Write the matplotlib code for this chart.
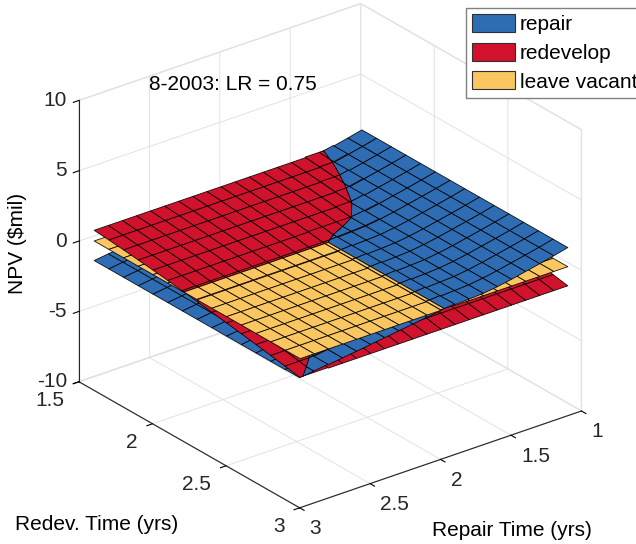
import numpy as np
import matplotlib
matplotlib.use("Agg")
import matplotlib.pyplot as plt
from matplotlib.patches import Patch
from matplotlib.ticker import NullFormatter
from mpl_toolkits.mplot3d import proj3d
from mpl_toolkits.mplot3d.art3d import Poly3DCollection

# NPV ($mil) (8-2003, LR = 0.75)
repair_time = [1.1, 1.2, 1.3, 1.4, 1.5, 1.6, 1.7, 1.8, 1.9, 2.0,
               2.1, 2.2, 2.3, 2.4, 2.5, 2.6, 2.7, 2.8, 2.9, 3.0]
redev_time = [1.6, 1.7, 1.8, 1.9, 2.0, 2.1, 2.2, 2.3, 2.4, 2.5,
              2.6, 2.7, 2.8, 2.9, 3.0]
npv_repair = [2.00, 1.76, 1.54, 1.33, 1.12, 0.94, 0.81, 0.75, 0.70, 0.62,
              0.49, 0.35, 0.21, 0.07, -0.07, -0.21, -0.34, -0.48, -0.62, -0.75]
npv_redevelop = [1.40, 1.31, 1.20, 1.08, 0.96, 0.82, 0.66, 0.51, 0.35, 0.19,
                 0.02, -0.15, -0.33, -0.52, -0.72]
npv_vacant = 0.64

options = ["repair", "redevelop", "leave vacant"]
colors = ["#2e6db4", "#d0122c", "#f9c660"]

x_ticks = [1, 1.5, 2, 2.5, 3]
x_ticklabels = ["1", "1.5", "2", "2.5", "3"]
y_ticks = [1.5, 2, 2.5, 3]
y_ticklabels = ["1.5", "2", "2.5", "3"]
z_ticks = [-10, -5, 0, 5, 10]
z_ticklabels = ["-10", "-5", "0", "5", "10"]

ELEV, AZIM = 26.3, 52.2
BOX = (1, 1.01, 0.88)


def npv_at(option, x, y):
    if option == "repair":
        return float(np.interp(x, repair_time, npv_repair))
    if option == "redevelop":
        return float(np.interp(y, redev_time, npv_redevelop))
    return npv_vacant


def split(poly, d):
    """Cut a flat polygon along the zero line of d (linear inside a cell)."""
    above, below = [], []
    n = len(poly)
    for k in range(n):
        p, q = poly[k], poly[(k + 1) % n]
        dp, dq = d[k], d[(k + 1) % n]
        if dp >= 0:
            above.append(p)
        if dp <= 0:
            below.append(p)
        if dp * dq < 0:
            t = dp / (dp - dq)
            m = (p[0] + t * (q[0] - p[0]), p[1] + t * (q[1] - p[1]))
            above.append(m)
            below.append(m)
    return above, below


def area(poly):
    xs = np.array([p[0] for p in poly])
    ys = np.array([p[1] for p in poly])
    return 0.5 * abs(np.dot(xs, np.roll(ys, 1)) - np.dot(ys, np.roll(xs, 1)))


# cut each surface cell along its crossings with the other two surfaces,
# then paint cell by cell (far to near) and bottom to top inside a cell
eye = (np.cos(np.radians(AZIM)), np.sin(np.radians(AZIM)))
groups = {}
for i in range(len(redev_time) - 1):
    for j in range(len(repair_time) - 1):
        x0, x1 = repair_time[j], repair_time[j + 1]
        y0, y1 = redev_time[i], redev_time[i + 1]
        near = (eye[0] * ((x0 + x1) / 2 - 1) / 2 * BOX[0]
                + eye[1] * ((y0 + y1) / 2 - 1.5) / 1.5 * BOX[1])
        for opt, col in zip(options, colors):
            others = [o for o in options if o != opt]
            pieces = [[(x0, y0), (x1, y0), (x1, y1), (x0, y1)]]
            for other in others:
                cut = []
                for pc in pieces:
                    d = [npv_at(opt, *p) - npv_at(other, *p) for p in pc]
                    cut += [q for q in split(pc, d) if len(q) >= 3 and area(q) > 1e-9]
                pieces = cut
            for pc in pieces:
                mx = np.mean([p[0] for p in pc])
                my = np.mean([p[1] for p in pc])
                rank = sum(npv_at(opt, mx, my) > npv_at(o, mx, my) for o in others)
                key = (round(near, 9), rank)
                groups.setdefault(key, []).append(
                    ([(px, py, npv_at(opt, px, py)) for px, py in pc], col))

plt.rcParams["font.family"] = ["Liberation Sans", "DejaVu Sans"]
plt.rcParams["grid.color"] = "#e2e2e2"
plt.rcParams["grid.linewidth"] = 0.7

W, H = 636, 544
fig = plt.figure(figsize=(W / 100, H / 100), dpi=100)
ax = fig.add_subplot(projection="3d", proj_type="ortho")
ax.view_init(elev=ELEV, azim=AZIM)
ax.set_box_aspect(BOX)
ax.computed_zorder = False

for order, key in enumerate(sorted(groups)):
    verts = [g[0] for g in groups[key]]
    fcs = [g[1] for g in groups[key]]
    coll = Poly3DCollection(verts, facecolors=fcs, edgecolors=(0, 0, 0, 0.9),
                            linewidths=0.6)
    coll.set_zorder(10 + order)
    ax.add_collection3d(coll, autolim=False)

ax.set_xlim(1, 3)
ax.set_ylim(1.5, 3)
ax.set_zlim(-10, 10)
ax.set_xticks(x_ticks)
ax.set_yticks(y_ticks)
ax.set_zticks(z_ticks)
for axis in (ax.xaxis, ax.yaxis, ax.zaxis):
    axis.set_major_formatter(NullFormatter())
ax.tick_params(axis="both", labelbottom=False, labelleft=False)
ax.tick_params(axis="z", labelleft=False, labelright=False)

for axis in (ax.xaxis, ax.yaxis, ax.zaxis):
    axis.set_pane_color((1, 1, 1, 1))
    axis.pane.set_edgecolor("#e2e2e2")
    axis.line.set_color("#262626")
    axis.line.set_linewidth(0.8)
    axis._axinfo["tick"]["inward_factor"] = 0.25
    axis._axinfo["tick"]["outward_factor"] = 0.0
    axis._axinfo["tick"]["color"] = "#262626"


def to_px(x, y, z):
    xs, ys, _ = proj3d.proj_transform(x, y, z, ax.get_proj())
    return ax.transData.transform((xs, ys))


# fit the projected box onto the reference corners (pixels, y down)
corners = [(3, 1.5, -10), (3, 1.5, 10), (3, 3, -10), (1, 3, -10)]
targets = [(79, 382), (79, 100), (300, 508), (581, 411)]

fig.canvas.draw()
bb = ax.get_position()
side0 = bb.width * W
c0 = np.array([(bb.x0 + bb.width / 2) * W, (bb.y0 + bb.height / 2) * H])
rows, rhs = [], []
for (px, py, pz), (tx, ty) in zip(corners, targets):
    p = (to_px(px, py, pz) - c0) / side0
    rows += [[p[0], 1, 0], [p[1], 0, 1]]
    rhs += [tx, H - ty]
s, cx, cy = np.linalg.lstsq(np.array(rows), np.array(rhs), rcond=None)[0]
ax.set_position([(cx - s / 2) / W, (cy - s / 2) / H, s / W, s / H])
fig.canvas.draw()

# tick labels set off the projected ticks like the original
tick_kw = dict(fontsize=15, color="#262626")
for t, lab in zip(x_ticks, x_ticklabels):
    px, py = to_px(t, 3, -10)
    fig.text((px + 10) / W, (py - 21) / H, lab, ha="left", va="center", **tick_kw)
for t, lab in zip(y_ticks, y_ticklabels):
    px, py = to_px(3, t, -10)
    fig.text((px - 15) / W, (py - 19) / H, lab, ha="right", va="center", **tick_kw)
for t, lab in zip(z_ticks, z_ticklabels):
    px, py = to_px(3, 1.5, t)
    fig.text((px - 12) / W, py / H, lab, ha="right", va="center", **tick_kw)

fig.text(233 / W, 1 - 85 / H, "8-2003: LR = 0.75", ha="center", va="center", fontsize=15)
fig.text(18 / W, 1 - 243 / H, "NPV ($mil)", ha="center", va="center",
         rotation=90, fontsize=15)
fig.text(97 / W, 1 - 524 / H, "Redev. Time (yrs)", ha="center", va="center", fontsize=15)
fig.text(512 / W, 1 - 530 / H, "Repair Time (yrs)", ha="center", va="center", fontsize=15)

handles = [Patch(facecolor=c, edgecolor="#303030", linewidth=0.8) for c in colors]
fig.legend(handles, options, loc="upper left", bbox_to_anchor=(466 / W, 1 - 8 / H),
           fontsize=15, frameon=True, fancybox=False, edgecolor="#808080",
           framealpha=1, handlelength=2.07, handleheight=0.96, handletextpad=0.2,
           labelspacing=0.4, borderpad=0.3, borderaxespad=0)

fig.savefig("out.png", dpi=100)
